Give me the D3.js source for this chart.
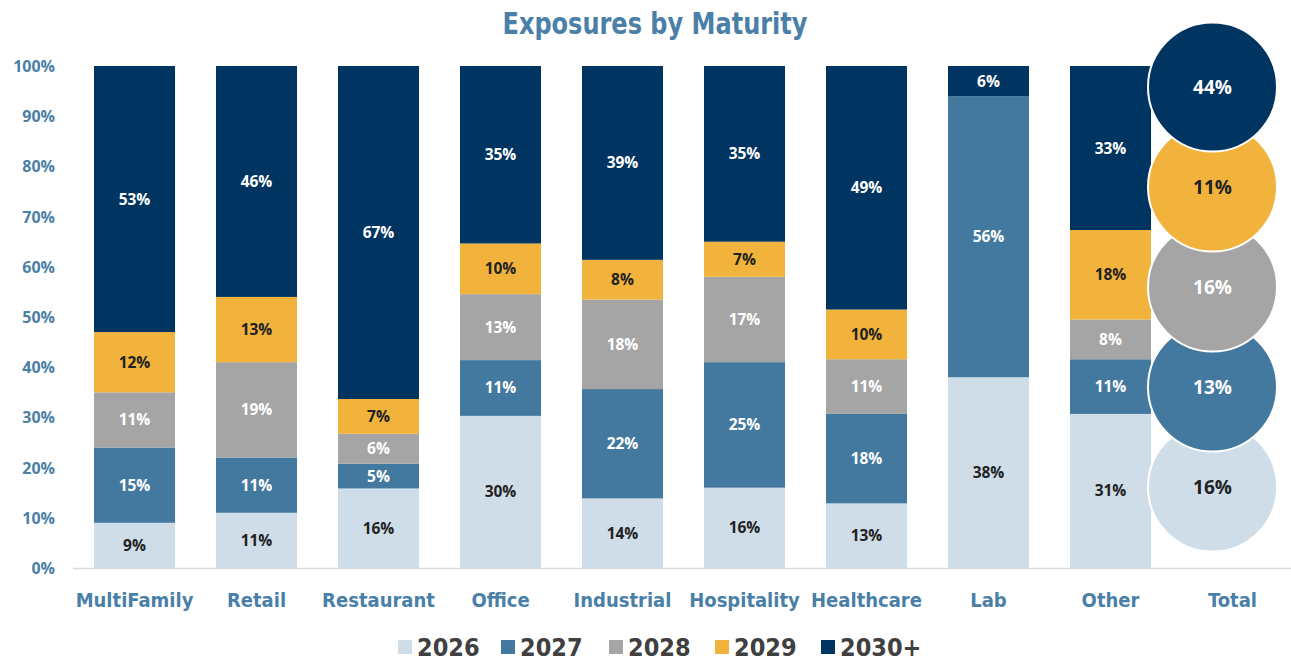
<!DOCTYPE html>
<html>
<head>
<meta charset="utf-8">
<script src="https://cdn.jsdelivr.net/npm/d3@7"></script>
<style>
  body { margin: 0; background: #fff; }
  .narrow { font-family: "Liberation Sans Narrow", "DejaVu Sans Condensed", "Roboto Condensed", sans-serif; font-weight: bold; }
  .lbl { font-family: "Open Sans", "Noto Sans", sans-serif; font-weight: bold; font-size: 15.5px; }
</style>
</head>
<body>
<svg id="chart" width="1291" height="665"></svg>
<script>
var categories = ["MultiFamily", "Retail", "Restaurant", "Office", "Industrial", "Hospitality", "Healthcare", "Lab", "Other"];
var seriesNames = ["2026", "2027", "2028", "2029", "2030+"];
var v2026  = [9, 11, 16, 30, 14, 16, 13, 38, 31];
var v2027  = [15, 11, 5, 11, 22, 25, 18, 56, 11];
var v2028  = [11, 19, 6, 13, 18, 17, 11, 0, 8];
var v2029  = [12, 13, 7, 10, 8, 7, 10, 0, 18];
var v2030  = [53, 46, 67, 35, 39, 35, 49, 6, 33];
var totals = [16, 13, 16, 11, 44];
var yTicks = [0, 10, 20, 30, 40, 50, 60, 70, 80, 90, 100];

var colors = ["#cfdde8", "#44799f", "#a5a5a5", "#f2b33d", "#003461"];
var labelColors = ["#222", "#fff", "#fff", "#222", "#fff"];
var blue = "#4a7fa8";

var rows = categories.map(function (c, i) {
    return { cat: c, "2026": v2026[i], "2027": v2027[i], "2028": v2028[i], "2029": v2029[i], "2030+": v2030[i] };
});

var svg = d3.select("#chart");

var x = d3.scaleBand()
    .domain(categories.concat(["Total"]))
    .range([73.5, 1293.5])
    .paddingInner(0.336)
    .paddingOuter(0.168);
var y = d3.scaleLinear().domain([0, 1]).range([568, 66]);

var stack = d3.stack().keys(seriesNames).offset(d3.stackOffsetExpand);
var layers = stack(rows);

// title
svg.append("text").attr("class", "narrow")
    .attr("x", 655).attr("y", 34)
    .attr("text-anchor", "middle")
    .attr("textLength", 305)
    .attr("lengthAdjust", "spacingAndGlyphs")
    .style("font-size", "31px")
    .style("fill", blue)
    .text("Exposures by Maturity");

// y axis labels
svg.selectAll("text.ytick").data(yTicks).enter().append("text")
    .attr("class", "ytick")
    .attr("x", 55)
    .attr("y", function (d) { return y(d / 100) + 6; })
    .attr("text-anchor", "end")
    .style("font-family", "'Open Sans', 'Noto Sans', sans-serif")
    .style("font-weight", "bold")
    .style("font-size", "16px")
    .style("fill", blue)
    .text(function (d) { return d + "%"; });

// baseline
svg.append("line")
    .attr("x1", 73).attr("x2", 1291)
    .attr("y1", y(0) + 0.5).attr("y2", y(0) + 0.5)
    .style("stroke", "#d9d9d9").style("stroke-width", 1.5);

// bars
var layerG = svg.selectAll("g.layer").data(layers).enter().append("g")
    .attr("class", "layer")
    .style("fill", function (d, i) { return colors[i]; });

layerG.selectAll("rect").data(function (d) { return d; }).enter().append("rect")
    .attr("x", function (d) { return x(d.data.cat); })
    .attr("width", x.bandwidth())
    .attr("y", function (d) { return y(d[1]); })
    .attr("height", function (d) { return y(d[0]) - y(d[1]); });

// segment labels
layers.forEach(function (layer, li) {
    svg.selectAll("text.seg" + li).data(layer.filter(function (d) { return d.data[layer.key] > 0; }))
        .enter().append("text")
        .attr("class", "lbl")
        .attr("x", function (d) { return x(d.data.cat) + x.bandwidth() / 2; })
        .attr("y", function (d) { return y((d[0] + d[1]) / 2) + 5.5; })
        .attr("text-anchor", "middle")
        .style("fill", labelColors[li])
        .text(function (d) { return d.data[layer.key] + "%"; });
});

// total circles
var cy = d3.scalePoint().domain(seriesNames).range([487, 87]);
var cx = x("Total") + x.bandwidth() / 2 - 20;
var circ = svg.selectAll("g.tot").data(seriesNames).enter().append("g").attr("class", "tot");
circ.append("circle")
    .attr("cx", cx)
    .attr("cy", function (d) { return cy(d); })
    .attr("r", 64.5)
    .style("fill", function (d, i) { return colors[i]; })
    .style("stroke", "#fff")
    .style("stroke-width", 2);
circ.append("text")
    .attr("class", "lbl")
    .attr("x", cx)
    .attr("y", function (d) { return cy(d) + 6.5; })
    .attr("text-anchor", "middle")
    .style("font-size", "19px")
    .style("fill", function (d, i) { return labelColors[i]; })
    .text(function (d, i) { return totals[i] + "%"; });

// x labels
svg.selectAll("text.xl").data(categories.concat(["Total"])).enter().append("text")
    .attr("class", "narrow")
    .attr("x", function (d) { return x(d) + x.bandwidth() / 2; })
    .attr("y", 607)
    .attr("text-anchor", "middle")
    .style("font-size", "20px")
    .style("fill", blue)
    .text(function (d) { return d; });

// legend
var legX = [398, 501, 609, 715, 821];
var leg = svg.selectAll("g.leg").data(seriesNames).enter().append("g")
    .attr("class", "leg")
    .attr("transform", function (d, i) { return "translate(" + legX[i] + ",640)"; });
leg.append("rect").attr("width", 14).attr("height", 14)
    .style("fill", function (d, i) { return colors[i]; });
leg.append("text").attr("class", "narrow")
    .attr("x", 19).attr("y", 16)
    .style("font-size", "25px")
    .style("fill", "#404040")
    .text(function (d) { return d; });
</script>
</body>
</html>
